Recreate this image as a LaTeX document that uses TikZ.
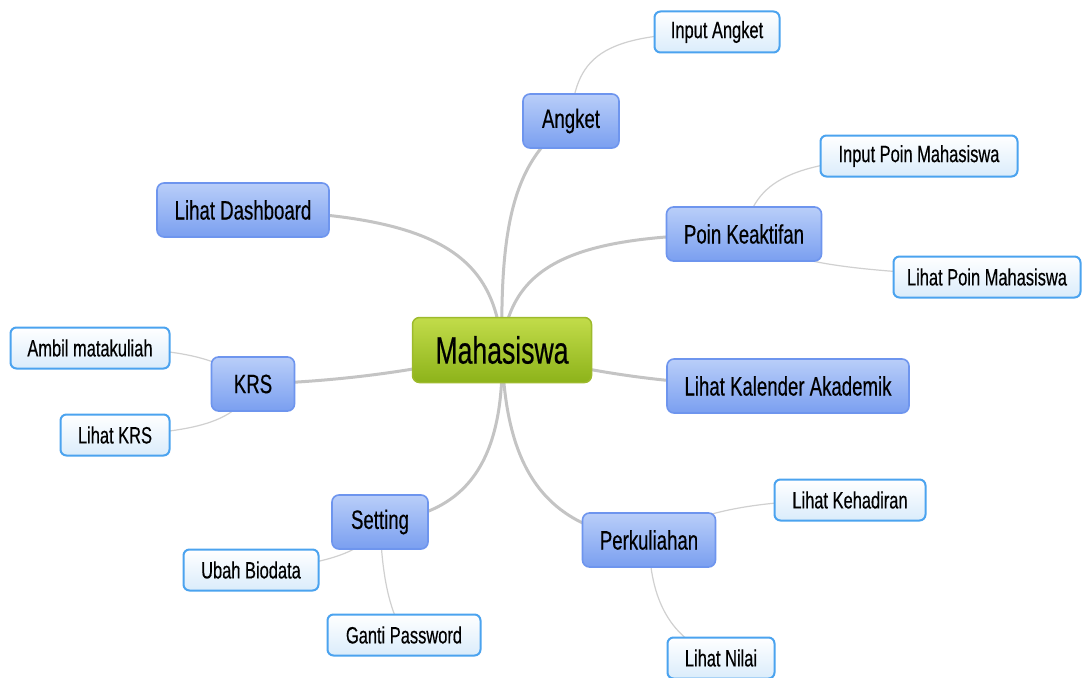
\documentclass[tikz,border=0pt]{standalone}
\usepackage{fontspec}
\setmainfont{Liberation Sans}[FakeStretch=0.7, FakeBold=0.4]
\definecolor{roottop}{HTML}{C2DC4A}
\definecolor{rootbot}{HTML}{8DB31A}
\definecolor{rootdraw}{HTML}{9DBA2C}
\definecolor{topictop}{HTML}{B9CEF9}
\definecolor{topicbot}{HTML}{7A9FF0}
\definecolor{topicdraw}{HTML}{6E95EE}
\definecolor{subbot}{HTML}{DAECFB}
\definecolor{subdraw}{HTML}{4BA3EF}
\definecolor{trunkcol}{HTML}{C4C4C4}
\definecolor{twigcol}{HTML}{D0D0D0}
\pgfdeclarelayer{paper}
\pgfdeclarelayer{bg}
\pgfsetlayers{paper,bg,main}
\begin{document}
\begin{tikzpicture}[x=1pt,y=-1pt,
  root/.style={draw=rootdraw, line width=1.5pt, rounded corners=7pt,
    top color=roottop, bottom color=rootbot, minimum width=179pt,
    minimum height=65pt, inner sep=0pt, font=\fontsize{38}{42}\selectfont},
  topic/.style={draw=topicdraw, line width=1.6pt, rounded corners=7pt,
    top color=topictop, bottom color=topicbot, minimum height=54pt,
    inner sep=0pt, font=\fontsize{26.6}{30}\selectfont},
  sub/.style={draw=subdraw, line width=2pt, rounded corners=6pt,
    top color=white, bottom color=subbot, minimum height=41pt,
    inner sep=0pt, font=\fontsize{23.5}{26}\selectfont},
  trunk/.style={draw=trunkcol, line width=3pt},
  twig/.style={draw=twigcol, line width=1.2pt}]
\begin{pgfonlayer}{paper}
  \fill[white] (0,0) rectangle (1083,677);
\end{pgfonlayer}
\useasboundingbox (0,0) rectangle (1083,677);

% central topic
\node[root] (m) at (502,350) {Mahasiswa};

% main topics and their subtopics
\node[topic, minimum width=96pt]  (ang)  at (571,121) {Angket};
\node[sub, minimum width=125pt]   (inang) at (717,32) {Input Angket};
\node[topic, minimum width=172pt] (dash) at (243,210) {Lihat Dashboard};
\node[topic, minimum width=155pt] (poin) at (744,234) {Poin Keaktifan};
\node[sub, minimum width=197pt]   (inpoin) at (919,156) {Input Poin Mahasiswa};
\node[sub, minimum width=187pt]   (lpoin) at (987,277) {Lihat Poin Mahasiswa};
\node[topic, minimum width=83pt]  (krs)  at (253,384) {KRS};
\node[sub, minimum width=159pt]   (ambil) at (90,348) {Ambil matakuliah};
\node[sub, minimum width=109pt]   (lkrs) at (115,435) {Lihat KRS};
\node[topic, minimum width=242pt] (kal)  at (788,386) {Lihat Kalender Akademik};
\node[topic, minimum width=96pt]  (set)  at (380,522) {Setting};
\node[sub, minimum width=135pt]   (ubah) at (251,570) {Ubah Biodata};
\node[sub, minimum width=153pt]   (ganti) at (404,635) {Ganti Password};
\node[topic, minimum width=133pt] (kul)  at (649,540) {Perkuliahan};
\node[sub, minimum width=151pt]   (hadir) at (850,500) {Lihat Kehadiran};
\node[sub, minimum width=107pt]   (nilai) at (721,658) {Lihat Nilai};

\begin{pgfonlayer}{bg}
  % branches from the central topic
  \draw[trunk] (m.center) .. controls (500,230) and (512,160) .. (ang.center);
  \draw[trunk] (m.center) .. controls (495,250) and (430,215) .. (dash.center);
  \draw[trunk] (m.center) .. controls (510,260) and (580,235) .. (poin.center);
  \draw[trunk] (m.center) .. controls (420,372) and (330,382) .. (krs.center);
  \draw[trunk] (m.center) .. controls (600,375) and (680,386) .. (kal.center);
  \draw[trunk] (m.center) .. controls (505,470) and (460,515) .. (set.center);
  \draw[trunk] (m.center) .. controls (505,470) and (545,530) .. (kul.center);
  % subtopic links
  \draw[twig] (ang.center) .. controls (575,50) and (610,35) .. (inang.center);
  \draw[twig] (poin.center) .. controls (755,180) and (790,160) .. (inpoin.center);
  \draw[twig] (poin.center) .. controls (790,265) and (850,270) .. (lpoin.center);
  \draw[twig] (krs.center) .. controls (220,360) and (190,348) .. (ambil.center);
  \draw[twig] (krs.center) .. controls (240,420) and (200,432) .. (lkrs.center);
  \draw[twig] (set.center) .. controls (370,550) and (330,565) .. (ubah.center);
  \draw[twig] (set.center) .. controls (382,580) and (390,610) .. (ganti.center);
  \draw[twig] (kul.center) .. controls (700,510) and (760,500) .. (hadir.center);
  \draw[twig] (kul.center) .. controls (650,600) and (670,640) .. (nilai.center);
\end{pgfonlayer}
\end{tikzpicture}
\end{document}
